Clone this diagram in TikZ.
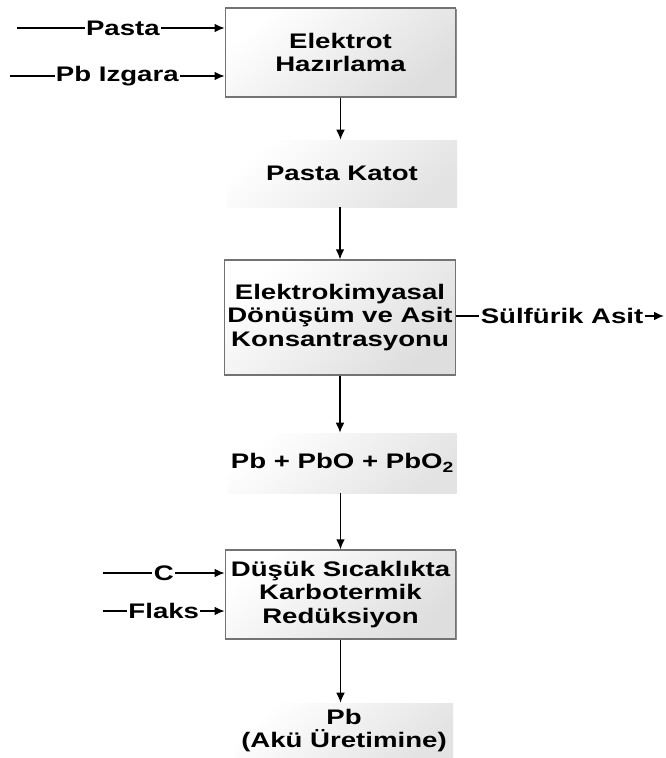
\documentclass[tikz,border=0pt]{standalone}
\usepackage{fontspec}
\setmainfont[FakeStretch=1.31]{Liberation Sans}
\usetikzlibrary{arrows.meta,shadows}
\tikzset{
  flstep/.style={rectangle, draw=black!55, line width=0.9pt,
                 top color=white, bottom color=black!13, shading angle=40,
                 drop shadow={shadow xshift=0.8pt, shadow yshift=-0.8pt,
                              fill=black!55, opacity=0.8},
                 minimum width=173pt, align=center, inner sep=2pt,
                 font=\fontsize{15.8}{17.6}\selectfont\bfseries},
  flproduct/.style={rectangle, top color=white, bottom color=black!11,
                    shading angle=40, align=center, inner sep=2pt,
                    font=\fontsize{15.8}{17.6}\selectfont\bfseries},
  fllink/.style={draw, line width=1pt, -{Latex[length=7.5pt,width=6.5pt]}},
  fllabel/.style={fill=white, inner xsep=1pt, inner ysep=1pt,
                  font=\fontsize{15.8}{17.6}\selectfont\bfseries}
}
\begin{document}
\begin{tikzpicture}[x=0.75pt, y=-0.75pt]
  \useasboundingbox (0,0) rectangle (666,758);
  % Process steps and the products between them, top to bottom.
  \node[flstep, minimum height=66.75pt] (hazir) at (340.5,52.5)
    {Elektrot\\Hazırlama};
  \node[flproduct, minimum width=172.5pt, minimum height=50.25pt] (katot)
    at (342,173.5) {Pasta Katot};
  \node[flstep, minimum height=86.25pt] (donusum) at (340,317.5)
    {Elektrokimyasal\\Dönüşüm ve Asit\\Konsantrasyonu};
  \node[flproduct, minimum width=168.75pt, minimum height=45pt] (oksit)
    at (342.5,463) {Pb + PbO + PbO\textsubscript{2}};
  \node[flstep, minimum height=66.75pt] (reduk) at (340.5,594.5)
    {Düşük Sıcaklıkta\\Karbotermik\\Redüksiyon};
  \node[flproduct, minimum width=163.5pt, minimum height=41.25pt] (aku)
    at (344,730.5) {Pb\\(Akü Üretimine)};
  % Main flow.
  \draw[fllink] (hazir.south) -- (hazir.south |- katot.north);
  \draw[fllink] (katot.south -| donusum.north) -- (donusum.north);
  \draw[fllink] (donusum.south) -- (donusum.south |- oksit.north);
  \draw[fllink] (oksit.south -| reduk.north) -- (reduk.north);
  \draw[fllink] (reduk.south) -- (reduk.south |- aku.north);
  % Inputs and outputs at the sides.
  \coordinate (pastain) at (17,28);
  \coordinate (izgarain) at (10,76);
  \coordinate (asitout) at (664,316);
  \coordinate (cin) at (103,573);
  \coordinate (flaksin) at (103,611);
  \draw[fllink] (pastain) -- node[fllabel, pos=0.51] {Pasta}
    (pastain -| hazir.west);
  \draw[fllink] (izgarain) -- node[fllabel] {Pb Izgara}
    (izgarain -| hazir.west);
  \draw[fllink] (asitout -| donusum.east) -- node[fllabel, pos=0.51]
    {Sülfürik Asit} (asitout);
  \draw[fllink] (cin) -- node[fllabel] {C} (cin -| reduk.west);
  \draw[fllink] (flaksin) -- node[fllabel] {Flaks} (flaksin -| reduk.west);
\end{tikzpicture}
\end{document}
